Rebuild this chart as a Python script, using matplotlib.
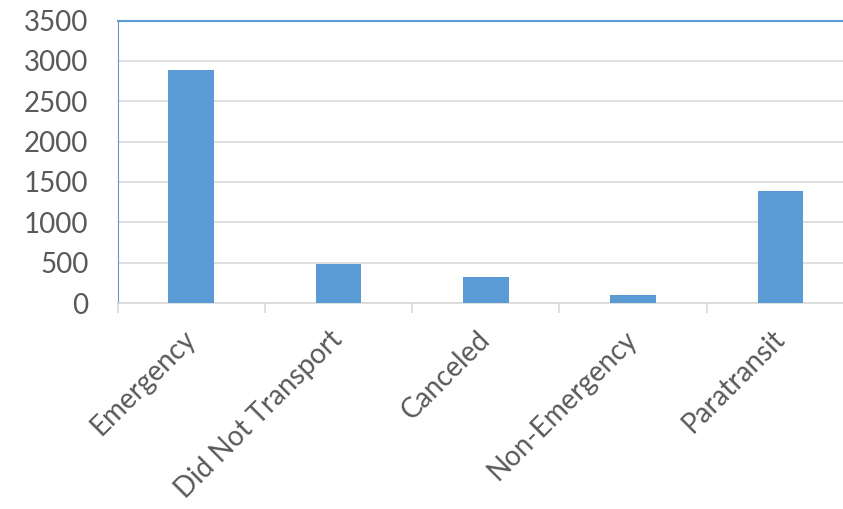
import numpy as np
import matplotlib
matplotlib.use("Agg")
import matplotlib.pyplot as plt

# values
categories = ["Emergency", "Did Not Transport", "Canceled", "Non-Emergency", "Paratransit"]
counts = [2890, 480, 320, 100, 1390]
y_ticks = [0, 500, 1000, 1500, 2000, 2500, 3000, 3500]

bar_color = "#5B9BD5"
grid_color = "#D9D9D9"
text_color = "#595959"

plt.rcParams["font.family"] = ["Lato", "DejaVu Sans"]

fig = plt.figure(figsize=(8.43, 5.09), dpi=100)
W, H = 843, 509
# plot area runs past the right edge of the picture, as in the reference
ax = fig.add_axes([117.5 / W, (H - 303) / H, 736.5 / W, 282.5 / H])

x = np.arange(len(categories))
ax.bar(x, counts, width=0.31, color=bar_color, zorder=3)

ax.set_xlim(-0.5, len(categories) - 0.5)
ax.set_ylim(0, 3500)
ax.set_yticks(y_ticks)
ax.set_yticklabels([str(v) for v in y_ticks])
ax.tick_params(axis="y", length=0, pad=21, labelsize=20, labelcolor=text_color)

# tick marks between categories, labels at centres
ax.set_xticks(np.arange(-0.5, len(categories), 1.0))
ax.set_xticklabels([])
ax.tick_params(axis="x", which="major", length=7.2, width=1.2, color=grid_color)
ax.set_xticks(x, minor=True)
ax.set_xticklabels(categories, minor=True, rotation=45, ha="right",
                   rotation_mode="anchor", va="center")
ax.tick_params(axis="x", which="minor", length=0, pad=23, labelsize=20,
               labelcolor=text_color)

ax.yaxis.grid(True, color=grid_color, linewidth=1.2, zorder=0)
ax.set_axisbelow(True)

ax.spines["top"].set_color(bar_color)
ax.spines["top"].set_linewidth(1.5)
ax.spines["left"].set_color(bar_color)
ax.spines["left"].set_linewidth(0.8)
ax.spines["bottom"].set_color(grid_color)
ax.spines["bottom"].set_linewidth(1.2)
ax.spines["right"].set_visible(False)

fig.savefig("out.png", dpi=100)
